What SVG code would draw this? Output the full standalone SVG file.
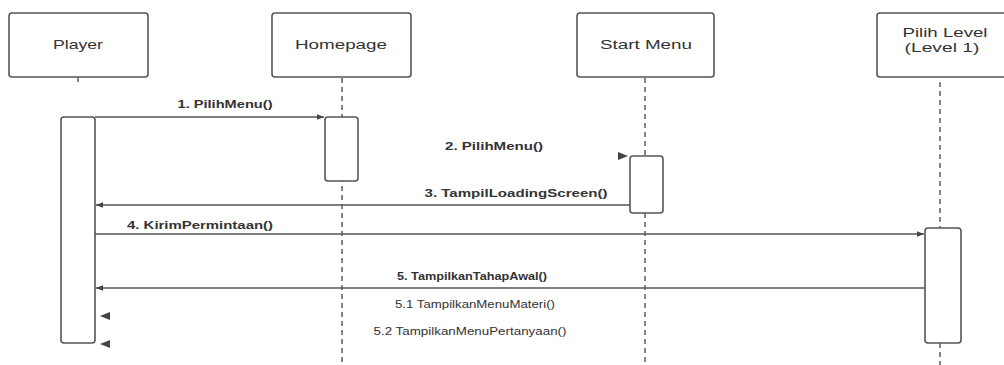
<svg xmlns="http://www.w3.org/2000/svg" width="1004" height="365" viewBox="0 0 1004 365">
<style>
.box{fill:#fff;stroke:#555;stroke-width:1.6}
.act{fill:#fff;stroke:#555;stroke-width:1.6}
.life{stroke:#444;stroke-width:1.3;stroke-dasharray:5,4;fill:none}
.msg{stroke:#555;stroke-width:1.4;fill:none}
.head{fill:#444}
.ttl{font-family:"Liberation Sans",Arial,sans-serif;font-size:13px;fill:#333;text-anchor:middle}
.lbl{font-family:"Liberation Sans",Arial,sans-serif;font-size:10px;font-weight:bold;fill:#333;text-anchor:middle}
.lbl2{font-family:"Liberation Sans",Arial,sans-serif;font-size:10px;fill:#333;text-anchor:middle}
</style>
<defs>
<marker id="ah" viewBox="0 0 10 10" refX="10" refY="5" markerWidth="9" markerHeight="7" markerUnits="userSpaceOnUse" orient="auto">
<path d="M0,1 L10,5 L0,9 Z" fill="#444"/>
</marker>
</defs>
<g id="lifelines">
<line class="msg" x1="78" y1="77" x2="78" y2="82"/>
<line class="life" x1="342" y1="78" x2="342" y2="365"/>
<line class="life" x1="645" y1="78" x2="645" y2="365"/>
<line class="life" x1="940" y1="82" x2="940" y2="365"/>
</g>
<g id="player">
<rect class="box" x="9" y="13" width="139" height="64" rx="3"/>
<text class="ttl" x="78" y="49" textLength="50" lengthAdjust="spacingAndGlyphs">Player</text>
<rect class="act" x="61" y="117" width="34" height="226" rx="3"/>
</g>
<g id="homepage">
<rect class="box" x="272" y="13" width="139" height="64" rx="3"/>
<text class="ttl" x="341" y="49" textLength="92" lengthAdjust="spacingAndGlyphs">Homepage</text>
<rect class="act" x="325" y="117" width="33" height="64" rx="3"/>
</g>
<g id="startmenu">
<rect class="box" x="577" y="13" width="137" height="64" rx="3"/>
<text class="ttl" x="646" y="49" textLength="92" lengthAdjust="spacingAndGlyphs">Start Menu</text>
<rect class="act" x="630" y="156" width="33" height="57" rx="3"/>
</g>
<g id="pilihlevel">
<rect class="box" x="877" y="13" width="140" height="64" rx="3"/>
<text class="ttl" x="945" y="37" textLength="85" lengthAdjust="spacingAndGlyphs">Pilih Level</text>
<text class="ttl" x="942" y="52" textLength="75" lengthAdjust="spacingAndGlyphs">(Level 1)</text>
<rect class="act" x="925" y="228" width="36" height="115" rx="3"/>
</g>
<g id="connectors">
<line class="msg" x1="95" y1="117" x2="324" y2="117" marker-end="url(#ah)"/>
<text class="lbl" x="225" y="108" textLength="95" lengthAdjust="spacingAndGlyphs">1. PilihMenu()</text>
<path class="head" d="M618,152 L628,156 L618,160 Z"/>
<text class="lbl" x="494" y="150" textLength="98" lengthAdjust="spacingAndGlyphs">2. PilihMenu()</text>
<line class="msg" x1="630" y1="205" x2="96" y2="205" marker-end="url(#ah)"/>
<text class="lbl" x="516" y="197" textLength="183" lengthAdjust="spacingAndGlyphs">3. TampilLoadingScreen()</text>
<line class="msg" x1="95" y1="234" x2="924" y2="234" marker-end="url(#ah)"/>
<text class="lbl" x="200" y="229" textLength="146" lengthAdjust="spacingAndGlyphs">4. KirimPermintaan()</text>
<line class="msg" x1="925" y1="288" x2="96" y2="288" marker-end="url(#ah)"/>
<text class="lbl" x="472" y="280" textLength="150" lengthAdjust="spacingAndGlyphs">5. TampilkanTahapAwal()</text>
<path class="head" d="M110,312 L100,316 L110,320 Z"/>
<text class="lbl2" x="475" y="308" textLength="160" lengthAdjust="spacingAndGlyphs">5.1 TampilkanMenuMateri()</text>
<path class="head" d="M110,340 L100,344 L110,348 Z"/>
<text class="lbl2" x="470" y="335" textLength="193" lengthAdjust="spacingAndGlyphs">5.2 TampilkanMenuPertanyaan()</text>
</g>
</svg>
